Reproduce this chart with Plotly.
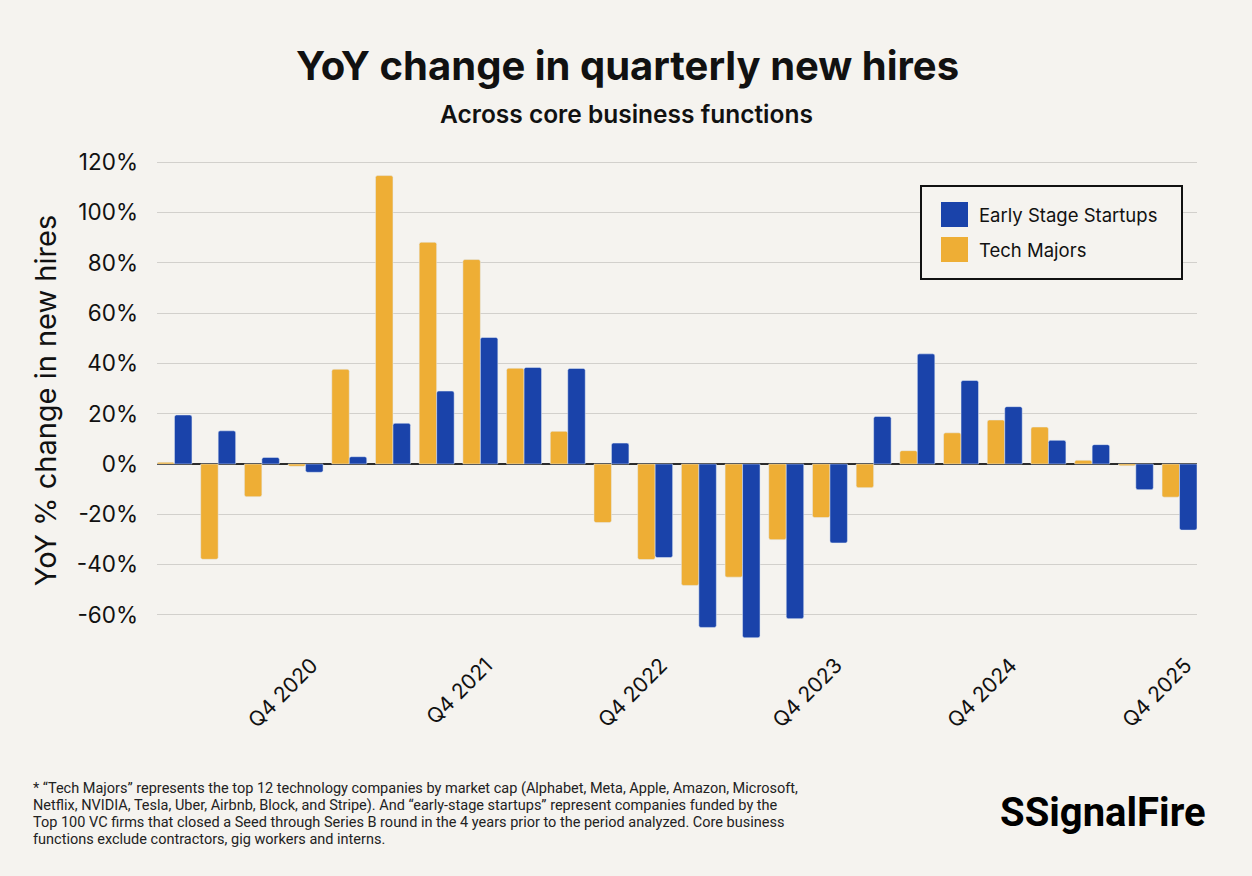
import plotly.graph_objects as go

# quarterly YoY change in new hires (%)
quarters = [
    "Q1 2020", "Q2 2020", "Q3 2020", "Q4 2020",
    "Q1 2021", "Q2 2021", "Q3 2021", "Q4 2021",
    "Q1 2022", "Q2 2022", "Q3 2022", "Q4 2022",
    "Q1 2023", "Q2 2023", "Q3 2023", "Q4 2023",
    "Q1 2024", "Q2 2024", "Q3 2024", "Q4 2024",
    "Q1 2025", "Q2 2025", "Q3 2025", "Q4 2025",
]

tech_majors = [
    0.7, -37.9, -13.0, -0.9, 37.7, 114.7, 88.2, 81.3,
    38.1, 13.0, -23.3, -38.0, -48.3, -45.0, -30.1, -21.3,
    -9.4, 5.3, 12.4, 17.5, 14.7, 1.5, -0.7, -13.2,
]

early_stage = [
    19.5, 13.2, 2.6, -3.3, 2.9, 16.2, 29.0, 50.3,
    38.4, 38.0, 8.3, -37.2, -65.0, -69.1, -61.5, -31.4,
    18.9, 43.8, 33.2, 22.8, 9.4, 7.7, -10.2, -26.3,
]

x_ticks = ["Q4 2020", "Q4 2021", "Q4 2022", "Q4 2023", "Q4 2024", "Q4 2025"]
y_ticks = [-60, -40, -20, 0, 20, 40, 60, 80, 100, 120]

footnote_lines = [
    "* \u201cTech Majors\u201d represents the top 12 technology companies by market cap "
    "(Alphabet, Meta, Apple, Amazon, Microsoft,",
    "Netflix, NVIDIA, Tesla, Uber, Airbnb, Block, and Stripe). And \u201cearly-stage "
    "startups\u201d represent companies funded by the",
    "Top 100 VC firms that closed a Seed through Series B round in the 4 years prior "
    "to the period analyzed. Core business",
    "functions exclude contractors, gig workers and interns.",
]

BLUE = "#1a43aa"
YELLOW = "#eeae35"
BG = "#f5f3ef"
INK = "#111111"

W, H = 1252, 876
L, R, T, B = 157, 55, 161, 236


def px_x(x):
    # pixel -> paper coords
    return (x - L) / (W - L - R)


def px_y(y):
    return (H - B - y) / (H - T - B)


fig = go.Figure()

# yellow first so it sits on the left of each pair
fig.add_trace(go.Bar(x=quarters, y=tech_majors, name="Tech Majors",
                     marker=dict(color=YELLOW, cornerradius=2),
                     showlegend=False))
fig.add_trace(go.Bar(x=quarters, y=early_stage, name="Early Stage Startups",
                     marker=dict(color=BLUE, cornerradius=2),
                     showlegend=False))

fig.update_layout(
    width=W, height=H,
    margin=dict(l=L, r=R, t=T, b=B),
    paper_bgcolor=BG, plot_bgcolor=BG,
    barmode="group", bargap=0.2, bargroupgap=0,
    font=dict(family="Inter", color=INK),
)

fig.update_xaxes(
    type="category", range=[-0.4, 23.4],
    tickvals=x_ticks, ticktext=x_ticks, tickangle=-45,
    tickfont=dict(size=21, color=INK), ticklabelstandoff=8, ticklabelshift=6,
    showgrid=False, showline=False, ticks="",
)

fig.update_yaxes(
    range=[-70, 120.5],
    tickvals=y_ticks, ticktext=[f"{v}%" for v in y_ticks],
    tickfont=dict(size=22.5, color=INK), ticklabelstandoff=18,
    showgrid=True, gridcolor="#d2d0cc", gridwidth=1.2,
    zeroline=True, zerolinecolor="#2b2b2b", zerolinewidth=1.5,
    title=dict(text="YoY % change in new hires", font=dict(size=29, color=INK),
               standoff=11),
)

# title block
fig.add_annotation(text="YoY change in quarterly new hires", xref="paper", yref="paper",
                   x=px_x(627), y=px_y(65), xanchor="center", yanchor="middle",
                   showarrow=False, font=dict(size=40, weight=700, color=INK))
fig.add_annotation(text="Across core business functions", xref="paper", yref="paper",
                   x=px_x(626), y=px_y(114), xanchor="center", yanchor="middle",
                   showarrow=False, font=dict(size=24.5, weight=600, color=INK))

# legend box drawn by hand (plotly caps bar swatch size)
fig.add_shape(type="rect", xref="paper", yref="paper",
              x0=px_x(921), x1=px_x(1182), y0=px_y(279), y1=px_y(186),
              line=dict(color="#111111", width=2), fillcolor=BG, layer="above")
for name, color, yc in [("Early Stage Startups", BLUE, 214.5), ("Tech Majors", YELLOW, 249.5)]:
    fig.add_shape(type="rect", xref="paper", yref="paper",
                  x0=px_x(941), x1=px_x(968), y0=px_y(yc + 12.5), y1=px_y(yc - 12.5),
                  line=dict(width=0), fillcolor=color, layer="above")
    fig.add_annotation(text=name, xref="paper", yref="paper",
                       x=px_x(977), y=px_y(yc), xanchor="left", yanchor="middle",
                       showarrow=False, font=dict(size=18.5, color=INK))

# footnote, one annotation per line to get the tighter leading
for i, line in enumerate(footnote_lines):
    fig.add_annotation(text=line, xref="paper", yref="paper",
                       x=px_x(31), y=px_y(788 + 17 * i), xanchor="left", yanchor="middle",
                       align="left", showarrow=False,
                       font=dict(family="Roboto", size=14.5, color="#222222"))

# logo wordmark
fig.add_annotation(text="SSignalFire", xref="paper", yref="paper",
                   x=px_x(1208), y=px_y(812), xanchor="right", yanchor="middle",
                   showarrow=False,
                   font=dict(family="Roboto", size=40, weight=700, color="#000000"))

# drop the default page margin so the chart fills the window
fig.write_html("out.html", config={"displayModeBar": False},
               post_script="document.body.style.margin='0';")
